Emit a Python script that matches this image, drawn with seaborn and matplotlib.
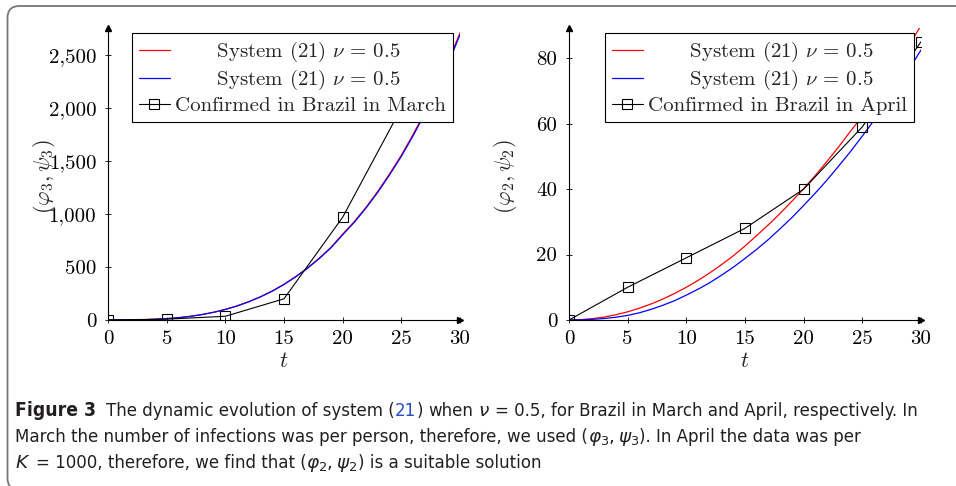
import matplotlib
matplotlib.use("Agg")
import matplotlib.pyplot as plt
import seaborn as sns
from matplotlib import font_manager
from matplotlib.patches import FancyBboxPatch
from matplotlib.transforms import IdentityTransform
from matplotlib.ticker import FuncFormatter, MultipleLocator

# ---- values ----
t_curve = list(range(31))
march_red = [0, 0.1, 0.8, 2.7, 6.4, 12.5, 21.6, 34.3, 51.2, 72.9, 100, 133, 173, 220, 274, 337,
             410, 491, 583, 686, 810, 930, 1065, 1215, 1380, 1555, 1750, 1960, 2190, 2440, 2710]
march_blue = [0, 0.1, 0.8, 2.7, 6.3, 12.4, 21.4, 34.0, 50.8, 72.4, 99.3, 132, 172, 218, 272, 335,
              407, 488, 579, 681, 804, 923, 1058, 1206, 1370, 1544, 1738, 1947, 2175, 2423, 2692]
april_red = [0, 0.1, 0.4, 0.9, 1.6, 2.5, 3.6, 4.9, 6.4, 8.1, 10, 12.1, 14.4, 16.9, 19.6, 22.6,
             25.8, 29.1, 32.6, 36.3, 40.1, 44.2, 48.5, 53.0, 57.7, 62.3, 67.4, 72.8, 78.3, 84.0, 90]
april_blue = [0, 0.05, 0.2, 0.45, 0.85, 1.4, 2.2, 3.25, 4.5, 5.9, 7.6, 9.4, 11.4, 13.7, 16.1, 18.8,
              21.6, 24.6, 27.9, 31.3, 35.0, 38.8, 42.8, 47.1, 51.5, 56.2, 61.0, 66.0, 71.3, 76.7, 82.5]

t_march = [0, 5, 10, 15, 20, 25]
march_confirmed = [0, 8, 35, 200, 970, 2000]
t_april = [0, 5, 10, 15, 20, 25, 30]
april_confirmed = [0, 10, 19, 28, 40, 59, 85]

sys_label = "      System (21) $\\nu\\,=\\,0.5$"

sns.set_style("ticks")
plt.rcParams["font.family"] = "serif"
plt.rcParams["font.serif"] = ["cmr10"]
plt.rcParams["mathtext.fontset"] = "cm"
plt.rcParams["axes.unicode_minus"] = False
plt.rcParams["axes.formatter.use_mathtext"] = True

fig = plt.figure(figsize=(9.56, 4.86), dpi=100)

# rounded frame around the figure
frame = FancyBboxPatch((7.5, -4), 980, 484, boxstyle="round,pad=0,rounding_size=12",
                       transform=IdentityTransform(), facecolor="none",
                       edgecolor="#777777", lw=1.3)
fig.patches.append(frame)


def draw_panel(ax, red, blue, td, conf, data_label, ymax, ystep, ylab, ylab_x):
    sns.lineplot(x=t_curve, y=red, ax=ax, color="red", lw=0.9, label=sys_label)
    sns.lineplot(x=t_curve, y=blue, ax=ax, color="blue", lw=0.9, label=sys_label)
    sns.lineplot(x=td, y=conf, ax=ax, color="black", lw=0.8, marker="s", markersize=7,
                 markerfacecolor="none", markeredgecolor="black", markeredgewidth=0.8,
                 label=data_label)
    ax.set_xlim(0, 30)
    ax.set_ylim(0, ymax)
    ax.xaxis.set_major_locator(MultipleLocator(5))
    ax.yaxis.set_major_locator(MultipleLocator(ystep))
    ax.yaxis.set_major_formatter(FuncFormatter(lambda v, p: f"{v:,.0f}"))
    ax.xaxis.set_major_formatter(FuncFormatter(lambda v, p: f"{v:.0f}"))
    for s in ["top", "right"]:
        ax.spines[s].set_visible(False)
    for s in ["left", "bottom"]:
        ax.spines[s].set_color("black")
        ax.spines[s].set_linewidth(0.8)
    ax.tick_params(direction="inout", length=5, width=0.6, color="black",
                   labelsize=15, labelcolor="black")
    ax.tick_params(axis="x", pad=5)
    ax.tick_params(axis="y", pad=6)
    # axis arrows
    ax.plot([1], [0], marker=">", ms=4, color="black", transform=ax.transAxes, clip_on=False)
    ax.plot([0], [1], marker="^", ms=4, color="black", transform=ax.transAxes, clip_on=False)
    ax.set_xlabel("$t$", fontsize=16)
    ax.xaxis.set_label_coords(0.5, -0.108)
    ax.xaxis.label.set_va("top")
    ax.set_ylabel(ylab, fontsize=16)
    ax.yaxis.set_label_coords(ylab_x, 0.49)
    leg = ax.legend(loc="upper right", bbox_to_anchor=(0.98, 0.983), fontsize=15,
                    frameon=True, fancybox=False, framealpha=1, edgecolor="black",
                    handlelength=1.5, handletextpad=0.25, labelspacing=0.2,
                    borderpad=0.33, borderaxespad=0)
    leg.get_frame().set_linewidth(0.8)
    ax.set_facecolor("none")


ax1 = fig.add_axes([0.1130, 0.3416, 0.3682, 0.6008])
draw_panel(ax1, march_red, march_blue, t_march, march_confirmed,
           "Confirmed in Brazil in March", 2755, 500, r"$(\varphi_3, \psi_3)$", -0.143)

ax2 = fig.add_axes([0.5952, 0.3416, 0.3682, 0.6008])
draw_panel(ax2, april_red, april_blue, t_april, april_confirmed,
           "Confirmed in Brazil in April", 89.2, 20, r"$(\varphi_2, \psi_2)$", -0.142)

# ---- caption ----
names = {f.name for f in font_manager.fontManager.ttflist}
if "Liberation Sans Narrow" in names:
    cap_family, cap_stretch = "Liberation Sans Narrow", "normal"
else:
    cap_family, cap_stretch = "DejaVu Sans", "condensed"
cap_size = 13.3
cap_color = "#231f20"
renderer = fig.canvas.get_renderer()


def text_width(s, **kw):
    t = fig.text(0, 0, s, transform=IdentityTransform(), **kw)
    w = t.get_window_extent(renderer).width
    t.remove()
    return w


base_kw = dict(family=cap_family, stretch=cap_stretch, fontsize=cap_size)
space = text_width("a a", **base_kw) - text_width("aa", **base_kw)


def caption_line(x, y, pieces):
    for s, gap, style in pieces:
        x += gap * space
        kw = dict(base_kw, color=cap_color, va="baseline", ha="left",
                  transform=IdentityTransform(), math_fontfamily="dejavusans")
        if style == "bold":
            kw["weight"] = "bold"
            kw["fontsize"] = cap_size + 0.5
        elif style == "link":
            kw["color"] = "#2b4bc2"
        t = fig.text(x, y, s, **kw)
        x = t.get_window_extent(renderer).x1


caption_line(15, 486 - 416, [
    ("Figure 3", 0, "bold"),
    ("The dynamic evolution of system (", 2, ""),
    ("21", 0, "link"),
    (")", 0, ""),
    ("when", 1, ""),
    ("$\\nu$", 1, ""),
    ("= 0.5, for Brazil in March and April, respectively. In", 1, ""),
])
caption_line(15, 486 - 442, [
    ("March the number of infections was per person, therefore, we used (", 0, ""),
    ("$\\varphi_3, \\psi_3$", 0, ""),
    ("). In April the data was per", 0, ""),
])
caption_line(15, 486 - 468, [
    ("$K$", 0, ""),
    ("= 1000, therefore, we find that (", 1, ""),
    ("$\\varphi_2, \\psi_2$", 0, ""),
    (") is a suitable solution", 0, ""),
])

fig.savefig("out.png", dpi=100)
